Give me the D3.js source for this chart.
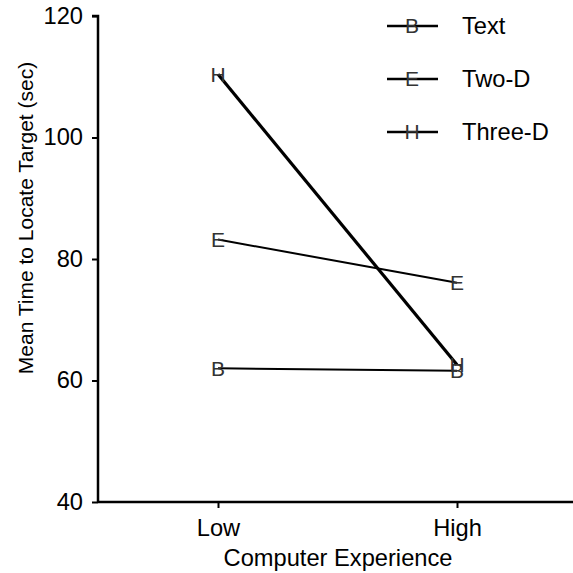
<!DOCTYPE html>
<html>
<head>
<meta charset="utf-8">
<script src="https://d3js.org/d3.v7.min.js"></script>
<style> body { margin: 0; background: #fff; } </style>
</head>
<body>
<div id="chart"></div>
<script>
// data
const experience = ["Low", "High"];
const seriesNames = ["Text", "Two-D", "Three-D"];
const markers = ["B", "E", "H"];
const textTimes = [62.0, 61.6];
const twoDTimes = [83.2, 76.1];
const threeDTimes = [110.4, 62.6];
const yTicks = [40, 60, 80, 100, 120];

const series = [
  { name: seriesNames[0], mark: markers[0], values: textTimes, width: 2 },
  { name: seriesNames[1], mark: markers[1], values: twoDTimes, width: 2 },
  { name: seriesNames[2], mark: markers[2], values: threeDTimes, width: 3.2 }
];

const W = 573, H = 573;
const font = "Liberation Sans, Arial, sans-serif";
const FS = 23;      // font size
const SX = 1.03;    // glyphs in the original are a touch wide

const svg = d3.select("#chart").append("svg")
  .attr("width", W).attr("height", H)
  .style("font-family", font);

const x = d3.scalePoint().domain(experience).range([218, 457]);
const y = d3.scaleLinear().domain([40, 120]).range([502, 16]);

// y axis
const yAxis = svg.append("g").attr("transform", "translate(98,0)")
  .call(d3.axisLeft(y).tickValues(yTicks).tickSize(6).tickPadding(9));
// x axis
const xAxis = svg.append("g").attr("transform", "translate(0,502)")
  .call(d3.axisBottom(x).tickSize(6).tickPadding(12));

for (const ax of [yAxis, xAxis]) {
  ax.selectAll(".domain").attr("stroke", "#000").attr("stroke-width", 2.5);
  ax.selectAll(".tick line").attr("stroke", "#000").attr("stroke-width", 2);
  ax.selectAll(".tick text").attr("font-size", FS).attr("fill", "#000")
    .attr("font-family", font).attr("transform", `scale(${SX},1)`);
}
yAxis.selectAll(".tick text").attr("x", -15 / SX);
// x axis runs to the right edge
xAxis.select(".domain").attr("d", "M98,0H573");
yAxis.select(".domain").attr("d", "M-6,16H0V502");

svg.append("text")
  .attr("transform", "translate(33,218) rotate(-90)")
  .attr("text-anchor", "middle")
  .attr("font-size", 21)
  .text("Mean Time to Locate Target (sec)");

svg.append("g").attr("transform", "translate(338,566)")
  .append("text")
  .attr("transform", `scale(${SX},1)`)
  .attr("text-anchor", "middle")
  .attr("font-size", FS)
  .text("Computer Experience");

const line = d3.line().x((d, i) => x(experience[i])).y(d => y(d));

function mark(sel, cx, cy, t) {
  sel.append("g").attr("transform", `translate(${cx},${cy})`)
    .append("text")
    .attr("dy", "0.35em")
    .attr("text-anchor", "middle")
    .attr("font-size", 21)
    .attr("fill", "#333")
    .text(t);
}

const g = svg.append("g");
series.forEach(s => {
  g.append("path")
    .attr("d", line(s.values))
    .attr("fill", "none")
    .attr("stroke", "#000")
    .attr("stroke-width", s.width);
  s.values.forEach((v, i) => mark(g, x(experience[i]), y(v), s.mark));
});

// legend
const legend = svg.append("g");
const legendY = [26, 79, 132];
series.forEach((s, i) => {
  const ly = legendY[i];
  legend.append("line")
    .attr("x1", 387).attr("x2", 438).attr("y1", ly).attr("y2", ly)
    .attr("stroke", "#000").attr("stroke-width", 2.5);
  mark(legend, 412, ly, s.mark);
  legend.append("g").attr("transform", `translate(462,${ly})`)
    .append("text")
    .attr("transform", `scale(${SX},1)`)
    .attr("dy", "0.35em")
    .attr("font-size", FS).attr("fill", "#000")
    .text(s.name);
});
</script>
</body>
</html>
